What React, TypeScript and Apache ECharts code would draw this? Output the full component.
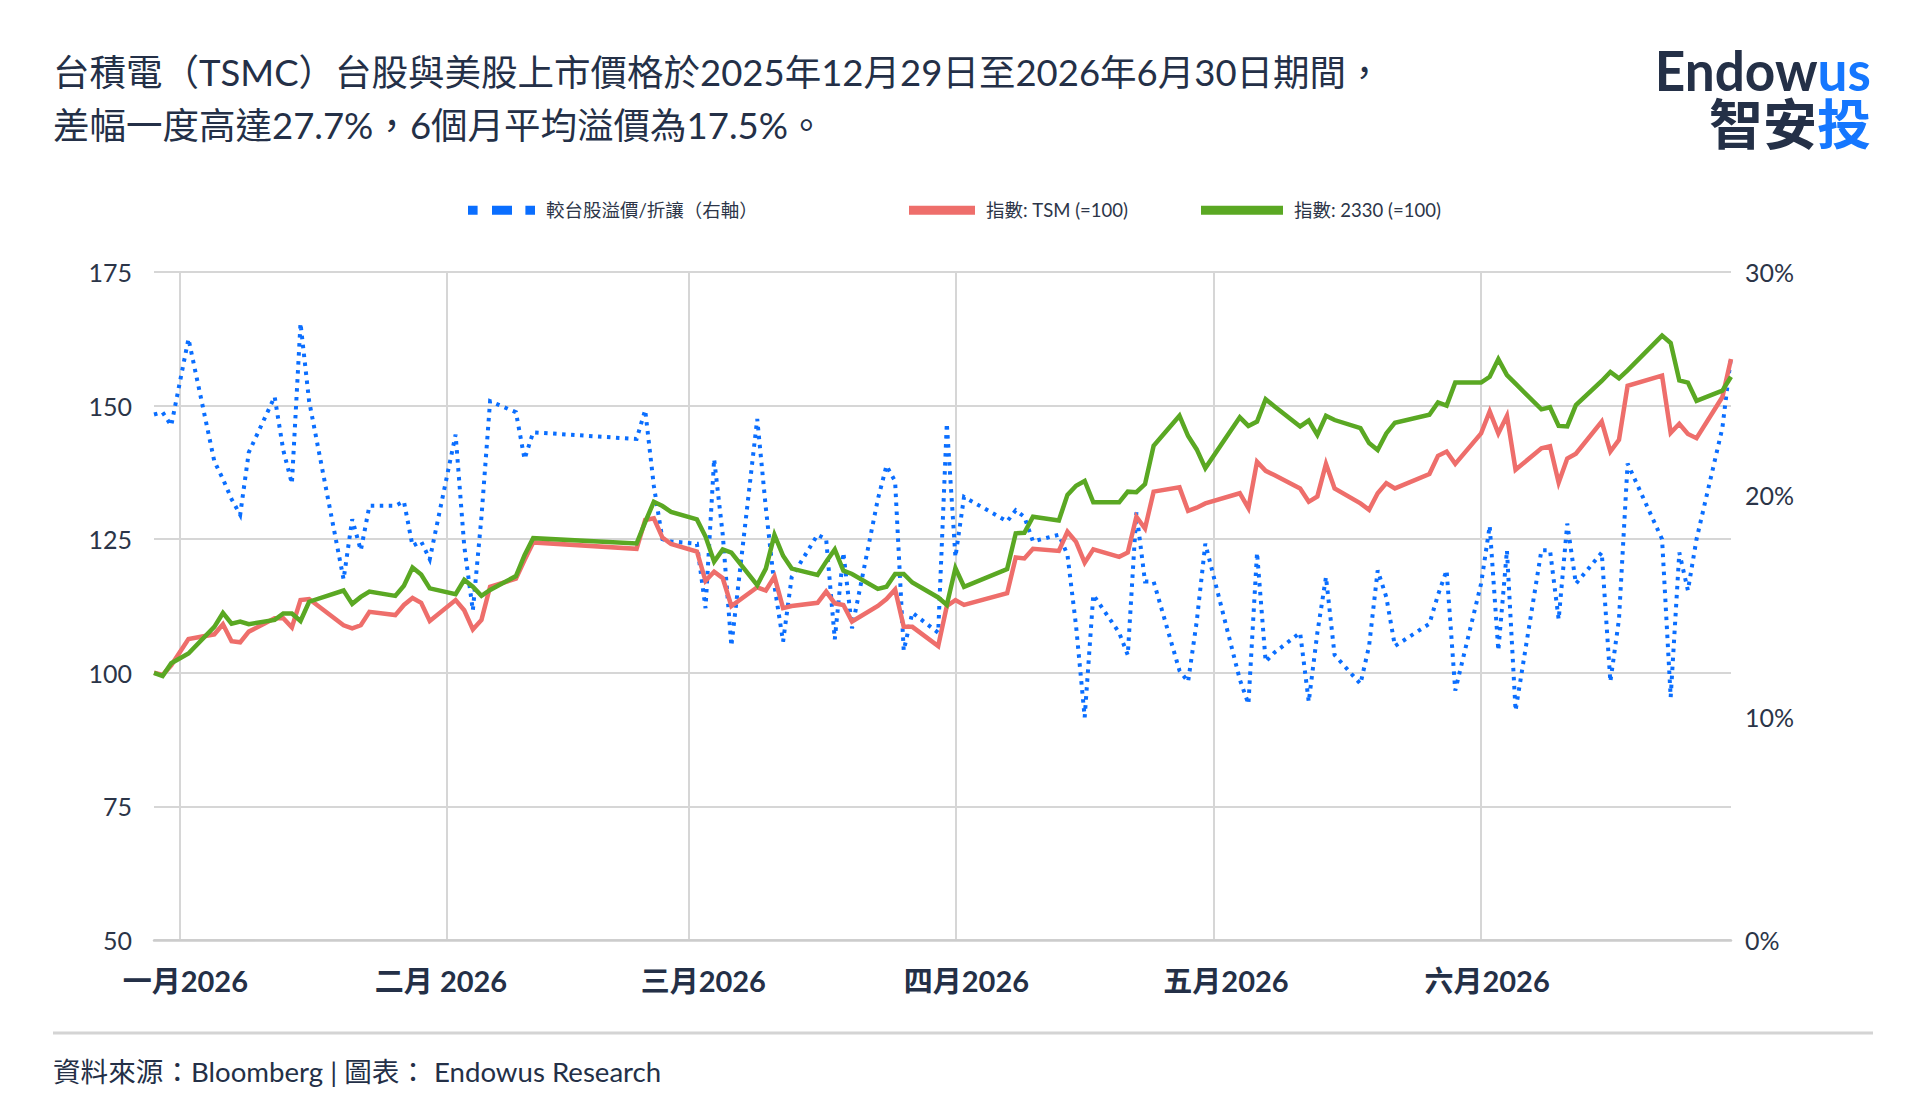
import React, { useEffect, useRef } from "react";
import * as echarts from "echarts";

const dates = [
  "2025-12-29", "2025-12-30", "2025-12-31", "2026-01-02", "2026-01-05", "2026-01-06", "2026-01-07", "2026-01-08", "2026-01-09",
  "2026-01-12", "2026-01-13", "2026-01-14", "2026-01-15", "2026-01-16", "2026-01-20", "2026-01-21", "2026-01-22", "2026-01-23",
  "2026-01-26", "2026-01-27", "2026-01-28", "2026-01-29", "2026-01-30", "2026-02-02", "2026-02-03", "2026-02-04", "2026-02-05",
  "2026-02-06", "2026-02-09", "2026-02-10", "2026-02-11", "2026-02-23", "2026-02-24", "2026-02-25", "2026-02-26", "2026-02-27",
  "2026-03-02", "2026-03-03", "2026-03-04", "2026-03-05", "2026-03-06", "2026-03-09", "2026-03-10", "2026-03-11", "2026-03-12",
  "2026-03-13", "2026-03-16", "2026-03-17", "2026-03-18", "2026-03-19", "2026-03-20", "2026-03-23", "2026-03-24", "2026-03-25",
  "2026-03-26", "2026-03-27", "2026-03-30", "2026-03-31", "2026-04-01", "2026-04-02", "2026-04-07", "2026-04-08", "2026-04-09",
  "2026-04-10", "2026-04-13", "2026-04-14", "2026-04-15", "2026-04-16", "2026-04-17", "2026-04-20", "2026-04-21", "2026-04-22",
  "2026-04-23", "2026-04-24", "2026-04-27", "2026-04-28", "2026-04-29", "2026-04-30", "2026-05-04", "2026-05-05", "2026-05-06",
  "2026-05-07", "2026-05-08", "2026-05-11", "2026-05-12", "2026-05-13", "2026-05-14", "2026-05-15", "2026-05-18", "2026-05-19",
  "2026-05-20", "2026-05-21", "2026-05-22", "2026-05-26", "2026-05-27", "2026-05-28", "2026-05-29", "2026-06-01", "2026-06-02",
  "2026-06-03", "2026-06-04", "2026-06-05", "2026-06-08", "2026-06-09", "2026-06-10", "2026-06-11", "2026-06-12", "2026-06-15",
  "2026-06-16", "2026-06-17", "2026-06-18", "2026-06-22", "2026-06-23", "2026-06-24", "2026-06-25", "2026-06-26", "2026-06-29",
  "2026-06-30",
];

// 指數: TSM (=100)
const tsmIndex = [
  100, 99.6, 101.4, 106.3, 107.2, 109.1, 105.9, 105.7, 107.7,
  110.2, 110.2, 108.5, 113.6, 113.8, 108.9, 108.3, 108.9, 111.4,
  110.8, 112.7, 114.0, 113.1, 109.7, 113.6, 111.7, 108.1, 109.9,
  116.1, 117.6, 121.1, 124.4, 123.2, 128.6, 128.9, 125.3, 124.1,
  122.7, 117.2, 118.9, 117.7, 112.5, 116.0, 115.4, 118.0, 112.1,
  112.5, 113.1, 115.2, 113.0, 112.7, 109.6, 112.5, 113.8, 115.6,
  108.6, 108.6, 105.0, 112.5, 113.6, 112.7, 114.9, 121.6, 121.4,
  123.2, 122.8, 126.4, 124.5, 120.6, 123.1, 121.7, 122.5, 129.2,
  127.0, 133.9, 134.7, 130.3, 130.9, 131.7, 133.6, 130.8, 139.5,
  137.8, 137.0, 134.5, 132.0, 133.0, 139.1, 134.5, 131.7, 130.5,
  133.6, 135.5, 134.5, 137.2, 140.6, 141.4, 139.1, 144.8, 148.9,
  144.8, 148.1, 138.0, 142.0, 142.4, 135.6, 140.1, 141.0, 147.0,
  141.4, 143.6, 153.7, 155.6, 144.9, 146.6, 144.7, 143.9, 151.6,
  158.7,
];

// 指數: 2330 (=100)
const twIndex = [
  100, 99.4, 101.8, 103.6, 108.6, 111.2, 109.2, 109.6, 109.1,
  109.9, 111.1, 111.1, 109.7, 113.3, 115.4, 112.9, 114.2, 115.2,
  114.4, 116.3, 119.7, 118.4, 115.8, 114.7, 117.4, 116.1, 114.4,
  115.5, 118.1, 122.0, 125.2, 124.2, 128.2, 132.0, 131.2, 130.1,
  128.7, 125.5, 120.8, 123.1, 122.5, 116.4, 119.5, 125.8, 121.9,
  119.5, 118.3, 120.8, 123.1, 119.1, 118.5, 115.7, 116.1, 118.5,
  118.5, 116.9, 114.1, 112.7, 119.6, 116.1, 119.4, 126.1, 126.2,
  129.2, 128.5, 133.3, 135.0, 135.9, 131.9, 131.9, 133.9, 133.8,
  135.3, 142.5, 148.1, 144.3, 141.8, 138.3, 147.8, 146.2, 147.0,
  151.2, 149.9, 146.1, 147.2, 144.5, 148.1, 147.3, 145.8, 143.0,
  141.7, 144.8, 146.8, 148.3, 150.6, 150.0, 154.3, 154.3, 155.4,
  158.7, 155.7, 154.1, 149.3, 149.7, 146.2, 146.1, 150.1, 154.6,
  156.3, 155.1, 156.6, 163.1, 161.7, 154.7, 154.3, 150.9, 152.8,
  155.4,
];

// 較台股溢價/折讓（右軸）, %
const premiumPct = [
  23.6, 23.7, 23.1, 27.0, 21.5, 20.7, 19.8, 19.1, 21.9,
  24.4, 22.0, 20.5, 27.7, 24.2, 16.2, 18.9, 17.5, 19.5,
  19.5, 19.7, 17.7, 17.9, 17.1, 22.7, 17.7, 14.8, 19.0,
  24.2, 23.7, 21.6, 22.8, 22.5, 23.8, 20.4, 18.0, 17.9,
  17.8, 14.9, 21.6, 18.2, 13.2, 23.4, 19.4, 15.9, 13.4,
  16.3, 18.2, 18.0, 13.5, 17.4, 14.0, 19.8, 21.3, 20.6,
  13.0, 14.7, 13.8, 23.2, 17.2, 19.9, 18.8, 19.3, 19.0,
  17.9, 18.2, 17.3, 14.1, 10.0, 15.5, 13.8, 12.8, 19.2,
  16.1, 16.1, 12.1, 11.6, 14.3, 17.8, 11.7, 10.6, 17.4,
  12.5, 12.9, 13.8, 10.7, 13.8, 16.3, 12.8, 11.5, 13.2,
  16.6, 15.4, 13.2, 14.2, 15.5, 16.6, 11.2, 16.0, 18.6,
  13.0, 17.5, 10.3, 17.5, 17.5, 14.4, 18.7, 16.0, 17.4,
  11.6, 14.4, 21.4, 18.0, 10.9, 17.4, 15.7, 18.0, 23.0,
  26.2,
];

const monthLabels = ["一月2026", "二月 2026", "三月2026", "四月2026", "五月2026", "六月2026"];
const leftAxis = { min: 50, max: 175, interval: 25 };
const rightAxis = { min: 0, max: 30, interval: 10 };

const seriesNames = ["較台股溢價/折讓（右軸）", "指數: TSM (=100)", "指數: 2330 (=100)"];
const titleLines = [
  "台積電（TSMC）台股與美股上市價格於2025年12月29日至2026年6月30日期間，",
  "差幅一度高達27.7%，6個月平均溢價為17.5%。",
];
const footerText = "資料來源：Bloomberg | 圖表： Endowus Research";

const FONT = "Lato, 'Noto Sans CJK TC', 'Noto Sans', sans-serif";
const CJK_FONT = "'Noto Sans CJK TC', sans-serif";
const DARK = "#243047";
const BLUE = "#0a6eff";
const LOGO_BLUE = "#1577ff";
const RED = "#ee6e6b";
const GREEN = "#5aa823";
const GRID = "#d6d6d6";

const toTs = (s: string) => {
  const [y, m, d] = s.split("-").map(Number);
  return new Date(y, m - 1, d).getTime();
};

function measure(text: string, font: string): number {
  const c = document.createElement("canvas").getContext("2d");
  if (!c) return text.length * 30;
  c.font = font;
  return c.measureText(text).width;
}

export default function App() {
  const ref = useRef<HTMLDivElement>(null);

  useEffect(() => {
    if (!ref.current) return;
    const chart = echarts.init(ref.current, undefined, { renderer: "svg" });
    const DAY = 86400000;
    const xs = dates.map(toTs);

    const legendText = { fontSize: 18.5, color: "#2c3548", fontFamily: FONT, padding: [0, 0, 0, 6] };

    // per-label horizontal nudges (left padding shifts a centred label right by half)
    const labelPad = [
      [0, 0, 0, 11],
      [0, 12, 0, 0],
      [0, 0, 0, 30],
      [0, 0, 0, 22],
      [0, 0, 0, 24],
      [0, 0, 0, 12],
    ];
    const rich: any = {};
    labelPad.forEach((p, i) => {
      rich["m" + i] = { padding: p, fontSize: 29, fontWeight: "bold", color: DARK, fontFamily: FONT };
    });

    const logoFont = 56;
    const usWidth = measure("us", `bold ${logoFont}px Lato`);
    const touWidth = measure("投", `bold ${logoFont}px 'Noto Sans CJK TC'`);

    const option: any = {
      animation: false,
      backgroundColor: "#ffffff",
      textStyle: { fontFamily: FONT },
      grid: { left: 154, right: 189, top: 272, bottom: 180, containLabel: false },
      legend: [
        {
          data: [{ name: seriesNames[0], icon: "path://M0,0h9.6v9h-9.6z M24,0h20v9h-20z M57.4,0h9.6v9h-9.6z" }],
          left: 463, top: 196, itemWidth: 67, itemHeight: 9, textStyle: legendText, itemStyle: { borderWidth: 0 },
        },
        {
          data: [{ name: seriesNames[1], icon: "rect" }],
          left: 904, top: 196, itemWidth: 66, itemHeight: 9, textStyle: legendText, itemStyle: { borderWidth: 0 },
        },
        {
          data: [{ name: seriesNames[2], icon: "rect" }],
          left: 1196, top: 196, itemWidth: 82, itemHeight: 9, textStyle: legendText, itemStyle: { borderWidth: 0 },
        },
      ],
      xAxis: {
        type: "time",
        min: toTs("2025-12-29"),
        max: toTs("2026-06-30"),
        minInterval: 28 * DAY,
        maxInterval: 31 * DAY,
        splitNumber: 6,
        axisLine: { show: true, lineStyle: { color: "#cccccc", width: 2.5 } },
        axisTick: { show: false },
        splitLine: { show: true, showMinLine: false, showMaxLine: false, lineStyle: { color: GRID, width: 2 } },
        axisLabel: {
          show: true,
          margin: 26,
          fontSize: 29,
          fontWeight: "bold",
          color: DARK,
          fontFamily: FONT,
          showMinLabel: false,
          showMaxLabel: false,
          rich,
          formatter: (val: number) => {
            const d = new Date(val);
            if (d.getDate() !== 1 || d.getFullYear() !== 2026) return "";
            const m = d.getMonth();
            const label = monthLabels[m];
            return label ? `{m${m}|${label}}` : "";
          },
        },
      },
      yAxis: [
        {
          type: "value",
          min: leftAxis.min,
          max: leftAxis.max,
          interval: leftAxis.interval,
          axisLine: { show: false },
          axisTick: { show: false },
          splitLine: { show: true, lineStyle: { color: GRID, width: 2 } },
          axisLabel: { margin: 22, fontSize: 25, color: "#2b3548", fontFamily: FONT },
        },
        {
          type: "value",
          min: rightAxis.min,
          max: rightAxis.max,
          interval: rightAxis.interval,
          position: "right",
          axisLine: { show: false },
          axisTick: { show: false },
          splitLine: { show: false },
          axisLabel: { margin: 14, fontSize: 25, color: "#2b3548", fontFamily: FONT, formatter: "{value}%" },
        },
      ],
      series: [
        {
          name: seriesNames[0],
          type: "line",
          yAxisIndex: 1,
          showSymbol: false,
          symbol: "none",
          color: BLUE,
          itemStyle: { color: BLUE },
          lineStyle: { color: BLUE, width: 4, type: [3.5, 5.5], join: "miter", cap: "butt" },
          data: xs.map((x, i) => [x, premiumPct[i]]),
          z: 2,
        },
        {
          name: seriesNames[1],
          type: "line",
          yAxisIndex: 0,
          showSymbol: false,
          symbol: "none",
          color: RED,
          itemStyle: { color: RED },
          lineStyle: { color: RED, width: 4.5, join: "miter" },
          data: xs.map((x, i) => [x, tsmIndex[i]]),
          z: 3,
        },
        {
          name: seriesNames[2],
          type: "line",
          yAxisIndex: 0,
          showSymbol: false,
          symbol: "none",
          color: GREEN,
          itemStyle: { color: GREEN },
          lineStyle: { color: GREEN, width: 4.5, join: "miter" },
          data: xs.map((x, i) => [x, twIndex[i]]),
          z: 4,
        },
      ],
      graphic: [
        {
          type: "text",
          x: 53,
          y: 72,
          style: { text: titleLines[0], fill: DARK, fontSize: 36.5, lineHeight: 40, fontFamily: FONT, align: "left", verticalAlign: "middle" },
        },
        {
          type: "text",
          x: 53,
          y: 125,
          style: { text: titleLines[1], fill: DARK, fontSize: 36.5, lineHeight: 40, fontFamily: FONT, align: "left", verticalAlign: "middle" },
        },
        {
          type: "group",
          x: 1871,
          y: 69,
          scaleX: 0.95,
          children: [
            {
              type: "text",
              x: 0,
              y: 0,
              style: { text: "us", fill: LOGO_BLUE, fontSize: logoFont, lineHeight: 44, fontWeight: "bold", fontFamily: "Lato", align: "right", verticalAlign: "middle" },
            },
            {
              type: "text",
              x: -usWidth,
              y: 0,
              style: { text: "Endow", fill: DARK, fontSize: logoFont, lineHeight: 44, fontWeight: "bold", fontFamily: "Lato", align: "right", verticalAlign: "middle" },
            },
          ],
        },
        {
          type: "group",
          x: 1871,
          y: 121,
          children: [
            {
              type: "text",
              x: 0,
              y: 0,
              style: { text: "投", fill: LOGO_BLUE, fontSize: 54, lineHeight: 44, fontWeight: "bold", fontFamily: CJK_FONT, align: "right", verticalAlign: "middle" },
            },
            {
              type: "text",
              x: -touWidth * (54 / logoFont),
              y: 0,
              style: { text: "智安", fill: DARK, fontSize: 54, lineHeight: 44, fontWeight: "bold", fontFamily: CJK_FONT, align: "right", verticalAlign: "middle" },
            },
          ],
        },
        {
          type: "line",
          shape: { x1: 53, y1: 1033, x2: 1873, y2: 1033 },
          style: { stroke: "#d4d4d4", lineWidth: 3 },
        },
        {
          type: "text",
          x: 53,
          y: 1071,
          style: { text: footerText, fill: DARK, fontSize: 27.6, fontFamily: FONT, align: "left", verticalAlign: "middle" },
        },
      ],
    };

    chart.setOption(option);
    return () => chart.dispose();
  }, []);

  return (
    <div
      ref={ref}
      style={{ position: "absolute", left: 0, top: 0, width: 1920, height: 1120, background: "#fff" }}
    />
  );
}
